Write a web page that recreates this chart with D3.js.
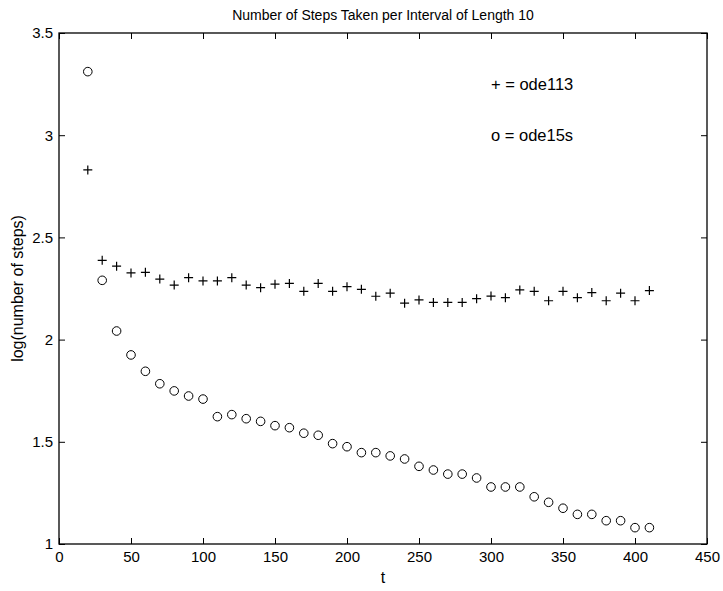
<!DOCTYPE html>
<html>
<head>
<meta charset="utf-8">
<script src="https://cdn.jsdelivr.net/npm/d3@7"></script>
<style>
  body { margin: 0; background: #fff; }
  svg text { font-family: "Liberation Sans", Arial, sans-serif; fill: #000; }
</style>
</head>
<body>
<div id="container"></div>
<script>
'use strict'

// time points (interval ends)
const tValues = [20,30,40,50,60,70,80,90,100,110,120,130,140,150,160,170,180,190,200,210,
                 220,230,240,250,260,270,280,290,300,310,320,330,340,350,360,370,380,390,400,410];

// log(number of steps) for ode113  (+)
const ode113 = [2.83,2.388,2.359,2.326,2.329,2.296,2.267,2.303,2.287,2.287,
                2.303,2.267,2.254,2.271,2.275,2.236,2.275,2.236,2.259,2.246,
                2.212,2.227,2.178,2.194,2.182,2.182,2.182,2.200,2.213,2.205,
                2.243,2.236,2.190,2.236,2.205,2.230,2.190,2.227,2.190,2.240];

// log(number of steps) for ode15s  (o)
const ode15s = [3.311,2.290,2.042,1.925,1.845,1.784,1.749,1.724,1.709,1.623,
                1.633,1.613,1.600,1.579,1.569,1.542,1.532,1.491,1.476,1.447,
                1.447,1.431,1.416,1.380,1.362,1.342,1.342,1.323,1.279,1.279,
                1.279,1.231,1.204,1.175,1.145,1.145,1.114,1.114,1.080,1.080];

const xTicks = [0,50,100,150,200,250,300,350,400,450];
const yTicks = [1,1.5,2,2.5,3,3.5];

const w = 723, h = 591;
const pLeft = 59, pRight = 707, pTop = 33, pBottom = 544;

const xScale = d3.scaleLinear().domain([0,450]).range([pLeft, pRight]);
const yScale = d3.scaleLinear().domain([1,3.5]).range([pBottom, pTop]);

const svg = d3.select("#container").append("svg")
              .attr("width", w).attr("height", h);

// box
svg.append("rect")
   .attr("x", pLeft).attr("y", pTop)
   .attr("width", pRight-pLeft).attr("height", pBottom-pTop)
   .attr("fill", "none").attr("stroke", "#000").attr("stroke-width", 1.3);

const tick = 6;
// axes, ticks pointing in (matlab style)
const xAxis = d3.axisBottom(xScale).tickValues(xTicks).tickSizeInner(-tick).tickSizeOuter(0).tickPadding(7);
const xAxisTop = d3.axisTop(xScale).tickValues(xTicks).tickSizeInner(-tick).tickSizeOuter(0).tickFormat("");
const yAxis = d3.axisLeft(yScale).tickValues(yTicks).tickSizeInner(-tick).tickSizeOuter(0).tickPadding(6).tickFormat(d3.format("~g"));
const yAxisRight = d3.axisRight(yScale).tickValues(yTicks).tickSizeInner(-tick).tickSizeOuter(0).tickFormat("");

svg.append("g").attr("class","axis").attr("transform","translate(0,"+pBottom+")").call(xAxis);
svg.append("g").attr("class","axis").attr("transform","translate(0,"+pTop+")").call(xAxisTop);
svg.append("g").attr("class","axis").attr("transform","translate("+pLeft+",0)").call(yAxis);
svg.append("g").attr("class","axis").attr("transform","translate("+pRight+",0)").call(yAxisRight);

svg.selectAll(".axis .domain").remove();
svg.selectAll(".axis text").style("font-size","15px").style("font-family",'"Liberation Sans", Arial, sans-serif');
svg.selectAll(".axis line").attr("stroke","#000");

// ode113 pluses
svg.append("g").selectAll("path")
   .data(ode113)
   .enter().append("path")
   .attr("transform", (d,i) => "translate(" + xScale(tValues[i]) + "," + yScale(d) + ")")
   .attr("d", "M-4.5,0H4.5M0,-4.5V4.5")
   .attr("stroke", "#000").attr("stroke-width", 1.2).attr("fill", "none");

// ode15s circles
svg.append("g").selectAll("circle")
   .data(ode15s)
   .enter().append("circle")
   .attr("cx", (d,i) => xScale(tValues[i]))
   .attr("cy", d => yScale(d))
   .attr("r", 4.3)
   .attr("stroke", "#000").attr("stroke-width", 1).attr("fill", "none");

// legend text
svg.append("text").text("+ = ode113")
   .attr("x", xScale(300)).attr("y", yScale(3.25)).attr("dy","0.35em")
   .style("font-size","16.5px");
svg.append("text").text("o = ode15s")
   .attr("x", xScale(300)).attr("y", yScale(3)).attr("dy","0.35em")
   .style("font-size","16.5px");

// title and labels
svg.append("text").text("Number of Steps Taken per Interval of Length 10")
   .attr("x", (pLeft+pRight)/2).attr("y", 20)
   .attr("text-anchor","middle").style("font-size","14px");

svg.append("text").text("t")
   .attr("x", (pLeft+pRight)/2).attr("y", 583)
   .attr("text-anchor","middle").style("font-size","16px");

svg.append("text").text("log(number of steps)")
   .attr("transform","rotate(-90)")
   .attr("x", -(pTop+pBottom)/2).attr("y", 23)
   .attr("text-anchor","middle").style("font-size","16px");
</script>
</body>
</html>
